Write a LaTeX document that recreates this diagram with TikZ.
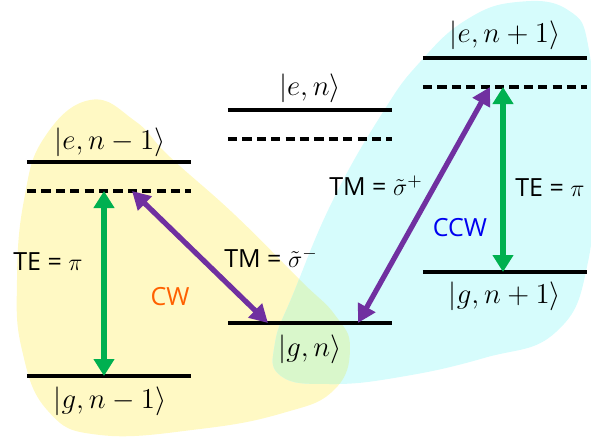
\documentclass[tikz,border=0pt]{standalone}
\usepackage{fontspec}
\setsansfont{Open Sans}
\usepackage{tikz}
\usetikzlibrary{arrows.meta}
\definecolor{cwYellow}{HTML}{FFF9C4}
\definecolor{ccwCyan}{HTML}{D6FCFC}
\definecolor{bothGreen}{HTML}{D9F7CB}
\definecolor{teGreen}{HTML}{00B050}
\definecolor{tmPurple}{HTML}{7030A0}
\definecolor{cwOrange}{HTML}{FF6000}
\definecolor{ccwBlue}{HTML}{0000F0}
\newcommand{\cwblob}{plot[smooth cycle,tension=0.75] coordinates {(90,100) (135,121) (170,157) (235,215) (300,280) (335,315) (350,348) (334,390) (283,413) (200,429) (100,435) (48,411) (22,350) (17,280) (24,200) (44,138)}}
\newcommand{\ccwblob}{plot[smooth cycle,tension=0.75] coordinates {(517,2) (568,10) (589,50) (594,150) (588,262) (556,332) (484,358) (400,377) (330,384) (281,376) (275,343) (294,292) (333,200) (383,112) (420,62) (466,20)}}

\begin{document}
\begin{tikzpicture}[x=0.5pt,y=-0.5pt,
  font=\sffamily\fontsize{12.5}{15}\selectfont,
  lvline/.style={line width=2pt},
  lvdash/.style={line width=2pt, dash pattern=on 4.6pt off 2.6pt},
  te/.style={draw=teGreen, line width=3pt,
    {Triangle[width=10pt,length=8.5pt]}-{Triangle[width=10pt,length=8.5pt]}},
  tm/.style={draw=tmPurple, line width=2.6pt,
    {Triangle[width=9.5pt,length=9pt]}-{Triangle[width=9.5pt,length=9pt]}},
  ket/.style={inner sep=1pt, font=\fontsize{13.6}{16}\selectfont},
  lbl/.style={inner sep=1pt},
]
\useasboundingbox (0,0) rectangle (591,440);
% CW and CCW regions
\fill[cwYellow] \cwblob;
\fill[ccwCyan] \ccwblob;
\begin{scope}
  \clip \cwblob;
  \fill[bothGreen] \ccwblob;
\end{scope}
% levels
\draw[lvline] (27,162) -- (191,162);
\draw[lvdash] (27,191) -- (191,191);
\draw[lvline] (27,376) -- (191,376);
\draw[lvline] (228,110) -- (392,110);
\draw[lvdash] (228,139) -- (392,139);
\draw[lvline] (228,323) -- (392,323);
\draw[lvline] (423,58) -- (587,58);
\draw[lvdash] (423,87) -- (587,87);
\draw[lvline] (423,272) -- (587,272);
\node[ket] (keL) at (110,142) {$|e,n-1\rangle$};
\node[ket] (kgL) at (110,401) {$|g,n-1\rangle$};
\node[ket] (keM) at (310,88) {$|e,n\rangle$};
\node[ket] (kgM) at (310,349) {$|g,n\rangle$};
\node[ket] (keR) at (505,35) {$|e,n+1\rangle$};
\node[ket] (kgR) at (505,296) {$|g,n+1\rangle$};
% transition end points
\coordinate (vL) at (104,191);
\coordinate (gL) at (104,376);
\coordinate (vLtm) at (132,191);
\coordinate (gMa) at (268,323);
\coordinate (gMb) at (358,323);
\coordinate (vRtm) at (490,87);
\coordinate (vR) at (503,87);
\coordinate (gR) at (503,272);
\draw[te] (vL) -- (gL);
\draw[tm] (vLtm) -- (gMa);
\draw[tm] (gMb) -- (vRtm);
\draw[te] (vR) -- (gR);
% labels
\node[lbl] (teL) at (48,262) {TE = $\pi$};
\node[lbl,text=cwOrange] (cw) at (170,297) {CW};
\node[lbl] (tmL) at (271,258) {TM = $\tilde{\sigma}^-$};
\node[lbl] (tmR) at (376,186) {TM = $\tilde{\sigma}^+$};
\node[lbl,text=ccwBlue] (ccw) at (460,228) {CCW};
\node[lbl] (teR) at (550,188) {TE = $\pi$};
\end{tikzpicture}
\end{document}
